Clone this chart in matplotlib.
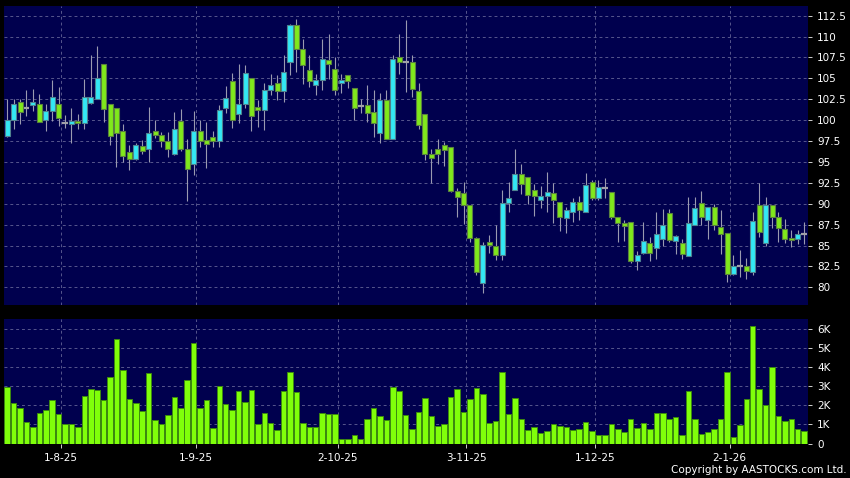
import numpy as np
import matplotlib.pyplot as plt
from matplotlib.ticker import FuncFormatter

# daily OHLC (HKD) and volume (thousands)
opens = [98.1, 100.0, 102.2, 101.5, 101.8, 101.9, 100.0, 101.1, 101.9, 99.7,
         99.5, 99.9, 99.7, 102.0, 102.5, 106.7, 101.9, 101.4, 98.7, 96.2,
         95.4, 96.95, 96.5, 98.75, 98.25, 97.5, 96.0, 99.95, 96.5, 94.75,
         98.75, 97.6, 98.0, 97.55, 101.5, 104.7, 100.75, 101.95, 105.0, 101.6,
         101.2, 103.65, 104.45, 103.5, 106.9, 111.4, 108.55, 106.05, 104.2, 104.8,
         107.15, 106.15, 104.45, 105.45, 103.8, 101.7, 101.85, 100.95, 98.5, 102.4,
         97.8, 107.55, 106.9, 106.9, 103.43, 100.7, 95.9, 96.5, 97.0, 96.8,
         91.55, 91.25, 89.8, 85.85, 80.5, 85.45, 84.95, 83.85, 90.05, 91.7,
         93.6, 93.2, 91.7, 90.4, 90.97, 91.3, 90.2, 88.3, 88.98, 90.2,
         88.98, 92.57, 90.7, 91.93, 91.37, 88.4, 87.7, 87.8, 83.1, 84.1,
         85.3, 84.7, 85.8, 88.85, 85.55, 85.3, 83.77, 87.48, 90.1, 88.07,
         89.6, 87.2, 86.5, 81.6, 82.53, 82.6, 81.8, 89.87, 85.3, 89.87,
         88.4, 87.0, 85.9, 85.8, 86.4]
highs = [102.5, 102.5, 102.5, 103.6, 103.7, 103.1, 101.9, 104.8, 104.0, 100.6,
         101.5, 100.7, 104.9, 107.8, 108.9, 106.7, 101.9, 101.4, 99.5, 97.0,
         97.3, 97.6, 101.6, 100.0, 98.6, 98.6, 101.0, 101.3, 97.8, 101.05,
         100.0, 99.8, 98.65, 101.8, 104.1, 105.6, 106.75, 106.55, 105.0, 102.4,
         104.5, 105.5, 105.45, 107.75, 111.55, 112.05, 109.75, 107.85, 105.55, 109.75,
         110.35, 107.55, 105.55, 105.45, 103.8, 102.55, 104.25, 103.55, 103.3, 103.55,
         107.75, 110.35, 112.0, 107.8, 104.5, 100.7, 96.6, 97.7, 97.4, 96.8,
         91.85, 92.6, 89.8, 86.05, 85.45, 86.25, 87.45, 91.7, 92.6, 96.6,
         94.7, 93.2, 92.35, 92.1, 93.85, 92.5, 90.2, 89.6, 90.7, 90.9,
         93.7, 92.85, 92.85, 93.1, 91.37, 88.4, 88.1, 87.8, 84.4, 87.8,
         86.0, 89.0, 89.4, 89.4, 86.2, 85.8, 90.8, 90.8, 91.5, 89.6,
         90.0, 89.2, 86.5, 83.9, 84.5, 83.5, 89.0, 92.5, 90.8, 89.87,
         89.0, 88.2, 86.8, 86.8, 87.8]
lows = [98.0, 99.0, 99.5, 100.5, 101.1, 99.8, 98.7, 99.9, 99.3, 99.1,
        97.3, 98.9, 98.9, 101.9, 102.5, 99.8, 97.0, 94.4, 95.0, 94.0,
        95.2, 96.0, 95.0, 97.9, 96.8, 95.6, 95.8, 96.3, 90.3, 93.4,
        96.8, 94.3, 96.8, 96.8, 100.9, 99.1, 99.7, 101.5, 98.7, 99.2,
        98.8, 103.0, 102.45, 102.2, 105.35, 105.75, 104.35, 103.95, 103.05, 103.55,
        104.95, 103.05, 103.2, 103.8, 100.0, 100.9, 99.8, 98.0, 97.3, 97.7,
        97.7, 105.55, 103.4, 102.8, 99.0, 95.2, 92.5, 94.75, 94.55, 91.45,
        88.4, 87.6, 85.45, 81.45, 79.35, 84.05, 83.25, 83.25, 89.05, 91.7,
        91.15, 90.0, 88.55, 89.5, 88.97, 87.65, 86.7, 86.45, 87.8, 88.0,
        88.98, 90.5, 90.4, 90.7, 88.2, 85.4, 85.5, 82.9, 82.1, 84.0,
        83.1, 83.4, 84.9, 85.4, 84.0, 83.4, 83.7, 87.4, 87.4, 85.8,
        86.8, 84.0, 80.6, 81.5, 81.2, 81.0, 81.5, 86.0, 85.0, 87.1,
        85.4, 85.3, 84.8, 85.2, 85.2]
closes = [100.0, 101.9, 101.0, 101.5, 102.2, 99.8, 101.1, 102.8, 100.2, 99.7,
          99.9, 99.7, 102.8, 102.8, 105.1, 101.3, 98.1, 98.5, 95.7, 95.4,
          97.0, 96.3, 98.5, 98.25, 97.5, 96.5, 99.0, 96.5, 94.1, 98.65,
          97.5, 97.15, 97.55, 101.25, 102.7, 100.05, 101.95, 105.6, 100.55, 101.2,
          103.65, 104.2, 103.5, 105.8, 111.4, 108.55, 106.65, 104.7, 104.8, 107.35,
          106.7, 103.65, 104.85, 104.7, 101.5, 101.7, 100.9, 99.6, 102.4, 97.8,
          107.35, 106.95, 106.9, 103.67, 99.37, 95.9, 95.5, 96.0, 96.4, 91.55,
          90.75, 89.8, 85.85, 81.8, 85.05, 85.05, 83.85, 90.05, 90.65, 93.6,
          92.35, 91.1, 90.9, 90.97, 91.37, 90.45, 88.4, 89.2, 90.18, 89.2,
          92.25, 90.7, 91.97, 91.93, 88.4, 87.7, 87.3, 83.1, 83.9, 85.55,
          84.15, 86.4, 87.4, 85.6, 86.15, 84.0, 87.72, 89.5, 88.4, 89.6,
          87.4, 86.4, 81.6, 82.6, 82.53, 82.0, 87.9, 86.6, 89.87, 88.4,
          87.1, 85.8, 85.6, 86.4, 86.4]
volumes = [2.95, 2.15, 1.85, 1.14, 0.84, 1.6, 1.75, 2.3, 1.57, 1.03,
           1.01, 0.89, 2.48, 2.87, 2.8, 2.3, 3.51, 5.5, 3.88, 2.36,
           2.13, 1.7, 3.69, 1.22, 1.0, 1.5, 2.45, 1.87, 3.32, 5.28,
           1.85, 2.3, 0.8, 3.0, 2.08, 1.77, 2.76, 2.17, 2.8, 1.03,
           1.6, 1.08, 0.72, 2.73, 3.74, 2.71, 1.05, 0.87, 0.89, 1.6,
           1.55, 1.55, 0.23, 0.21, 0.42, 0.24, 1.28, 1.84, 1.45, 1.24,
           2.95, 2.78, 1.47, 0.77, 1.63, 2.38, 1.43, 0.91, 1.0, 2.45,
           2.85, 1.63, 2.34, 2.9, 2.6, 1.08, 1.19, 3.74, 1.56, 2.4,
           1.28, 0.7, 0.89, 0.56, 0.66, 1.01, 0.93, 0.86, 0.73, 0.77,
           1.12, 0.65, 0.47, 0.47, 1.0, 0.77, 0.58, 1.26, 0.82, 1.05,
           0.75, 1.59, 1.61, 1.29, 1.4, 0.45, 2.74, 1.29, 0.51, 0.58,
           0.75, 1.28, 3.74, 0.33, 0.96, 2.36, 6.19, 2.85, 2.03, 4.02,
           1.45, 1.19, 1.31, 0.75, 0.66]
date_idx = [8, 29, 51, 71, 91, 112]
date_labels = ["1-8-25", "1-9-25", "2-10-25", "3-11-25", "1-12-25", "2-1-26"]
price_ticks = [80, 82.5, 85, 87.5, 90, 92.5, 95, 97.5, 100, 102.5, 105, 107.5, 110, 112.5]

BG = "#00004e"
UP = "#33e8f4"
DOWN = "#80e81c"
GRID = "#56568c"

o = np.array(opens)
c = np.array(closes)
x = np.arange(len(o))
up = c > o
down = c < o
doji = c == o

fig = plt.figure(figsize=(8.5, 4.78), dpi=100, facecolor="black")
ax1 = fig.add_axes([4 / 850, 1 - 305 / 478, 804 / 850, 299 / 478])
ax2 = fig.add_axes([4 / 850, 1 - 443.5 / 478, 804 / 850, 125 / 478])

for ax in (ax1, ax2):
    ax.set_facecolor(BG)
    for s in ax.spines.values():
        s.set_visible(False)
    ax.set_xlim(-0.5, 124.6)
    ax.set_axisbelow(True)
    ax.grid(True, color=GRID, linestyle=(0, (3, 3)), linewidth=0.7)
    ax.yaxis.tick_right()
    ax.tick_params(colors="#d0d0d0", labelcolor="white", labelsize=7.5, length=3, width=0.7)
    ax.set_xticks([i + 0.4 for i in date_idx])

# candles
ax1.vlines(x, lows, highs, color="#9a9ab0", linewidth=0.8, zorder=2)
ax1.bar(x[up], (c - o)[up], bottom=o[up], width=0.78, color=UP,
        edgecolor="#4f8290", linewidth=0.8, zorder=3)
ax1.bar(x[down], (o - c)[down], bottom=c[down], width=0.78, color=DOWN,
        edgecolor="#5a8040", linewidth=0.8, zorder=3)
ax1.hlines(o[doji], x[doji] - 0.45, x[doji] + 0.45, color="#a0a0a8", linewidth=1.6, zorder=3)
ax1.set_ylim(77.88, 113.66)
ax1.set_yticks(price_ticks)
ax1.set_yticklabels([f"{t:g}" for t in price_ticks])
ax1.tick_params(axis="x", length=0, labelbottom=False)

# volume
ax2.bar(x, volumes, width=0.86, color="#80ff0a", edgecolor="#3c8a10", linewidth=0.7, zorder=3)
ax2.set_ylim(0, 6.56)
ax2.set_yticks(range(7))
ax2.yaxis.set_major_formatter(FuncFormatter(lambda v, p: "0" if v == 0 else f"{int(v)}K"))
ax2.set_xticklabels(date_labels)

fig.text(847 / 850, 3 / 478, "Copyright by AASTOCKS.com Ltd.", color="white",
         fontsize=7.5, ha="right", va="bottom")

fig.savefig("out.png", dpi=100, facecolor="black")
